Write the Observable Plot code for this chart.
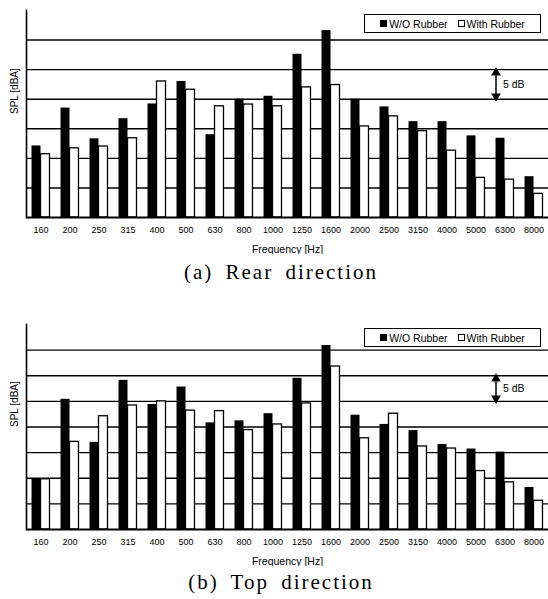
<!DOCTYPE html>
<html>
<head>
<meta charset="utf-8">
<script src="https://cdn.jsdelivr.net/npm/d3@7"></script>
<script src="https://cdn.jsdelivr.net/npm/@observablehq/plot@0.6"></script>
<style>
  html, body { margin: 0; padding: 0; background: white; }
  body { width: 548px; font-family: "Liberation Sans", Arial, sans-serif; }
  .panel { position: relative; width: 548px; }
  .panel svg { display: block; }
  .legend { position: absolute; box-sizing: border-box; border: 1.3px solid black; background: white;
    font: 10.5px "Liberation Sans", Arial, sans-serif; display: flex; align-items: center; justify-content: center;
    gap: 10px; color: black; }
  .legend .item { display: flex; align-items: center; gap: 2px; }
  .sq { display: inline-block; width: 7px; height: 7px; box-sizing: border-box; border: 1px solid black; }
  .cap { text-align: center; font-family: "Liberation Serif", "DejaVu Serif", serif; font-size: 21px;
    letter-spacing: 2px; word-spacing: 5px; color: black; padding-left: 14px; }
</style>
</head>
<body>
<div id="pa" class="panel"></div>
<div class="cap" id="capa" style="height:36px;line-height:36px;"></div>
<div id="pb" class="panel"></div>
<div class="cap" id="capb" style="height:32px;line-height:32px;"></div>
<script>
const freqs = ["160","200","250","315","400","500","630","800","1000","1250","1600","2000","2500","3150","4000","5000","6300","8000"];
const seriesNames = ["W/O Rubber", "With Rubber"];
const seriesFill = ["black", "white"];

// (a) Rear direction, relative SPL in dB
const rearWO   = [12.1, 18.5, 13.3, 16.7, 19.2, 23.0, 14.0, 20.0, 20.5, 27.6, 31.6, 20.0, 18.7, 16.2, 16.2, 13.8, 13.4, 6.9];
const rearWith = [10.7, 11.7, 12.0, 13.4, 23.0, 21.6, 18.8, 19.1, 18.8, 22.0, 22.4, 15.4, 17.1, 14.6, 11.3, 6.7, 6.4, 4.0];
const rearGrid = [5, 10, 15, 20, 25, 30];

// (b) Top direction
const topWO   = [9.8, 25.4, 17.0, 29.1, 24.4, 27.8, 20.8, 21.2, 22.6, 29.5, 35.9, 22.3, 20.5, 19.3, 16.6, 15.7, 15.1, 8.2];
const topWith = [9.8, 17.1, 22.1, 24.2, 25.0, 23.2, 23.1, 19.4, 20.5, 24.6, 31.8, 17.8, 22.6, 16.2, 15.8, 11.4, 9.2, 5.6];
const topGrid = [5, 10, 15, 20, 25, 30, 35];

const captions = ["(a) Rear direction", "(b) Top direction"];
const arrowLabel = "5 dB";
const arrowFreq = "6300";

function panel({wo, wi, ymax, grid, arrowSpan, marginTop, height}) {
  const W = 548, ML = 26, MR = 0;
  const bw = (W - ML - MR) / freqs.length;
  const outer = bw * 0.19, inner = bw * 0.5;
  const dWO = freqs.map((f, i) => ({freq: f, v: wo[i]}));
  const dWI = freqs.map((f, i) => ({freq: f, v: wi[i]}));
  const [a0, a1] = arrowSpan;
  return Plot.plot({
    width: W, height, marginTop, marginBottom: 37,
    marginLeft: ML, marginRight: MR,
    style: {background: "white", color: "black", fontFamily: "'Liberation Sans', Arial, sans-serif"},
    x: {domain: freqs, padding: 0, axis: null},
    y: {domain: [0, ymax], axis: null},
    marks: [
      Plot.ruleY(grid, {stroke: "black", strokeWidth: 1.4}),
      Plot.barY(dWO, {x: "freq", y: "v", fill: seriesFill[0], insetLeft: outer, insetRight: inner}),
      Plot.barY(dWI, {x: "freq", y: "v", fill: seriesFill[1], stroke: "black", strokeWidth: 1.3, insetLeft: inner, insetRight: outer}),
      Plot.ruleY([0], {stroke: "black", strokeWidth: 1.8}),
      Plot.frame({anchor: "left", stroke: "black", strokeWidth: 1.6}),
      Plot.axisX({tickSize: 0, tickPadding: 9, fontSize: 9, label: null}),
      Plot.text(["Frequency [Hz]"], {frameAnchor: "bottom", dy: 32, fontSize: 10.5, lineAnchor: "middle"}),
      Plot.text(["SPL [dBA]"], {frameAnchor: "left", dx: -12, rotate: -90, fontSize: 10, lineAnchor: "middle"}),
      Plot.ruleX([arrowFreq], {x: d => d, y1: a0, y2: a1, dx: -9, stroke: "black", strokeWidth: 1.5}),
      Plot.dot([a1], {x: () => arrowFreq, y: d => d, symbol: "triangle", fill: "black", stroke: "none", r: 3.6, dx: -9, dy: 3}),
      Plot.dot([a0], {x: () => arrowFreq, y: d => d, symbol: "triangle", fill: "black", stroke: "none", r: 3.6, rotate: 180, dx: -9, dy: -3}),
      Plot.text([arrowLabel], {x: () => arrowFreq, y: () => (a0 + a1) / 2, dx: -2, textAnchor: "start", fontSize: 10.5})
    ]
  });
}

function legend(top) {
  const div = document.createElement("div");
  div.className = "legend";
  div.style.left = "364px";
  div.style.top = top + "px";
  div.style.width = "177px";
  div.style.height = "19px";
  seriesNames.forEach((name, i) => {
    const it = document.createElement("span");
    it.className = "item";
    const sq = document.createElement("span");
    sq.className = "sq";
    sq.style.background = seriesFill[i];
    it.appendChild(sq);
    it.appendChild(document.createTextNode(name));
    div.appendChild(it);
  });
  return div;
}

const pa = document.getElementById("pa");
pa.appendChild(panel({wo: rearWO, wi: rearWith, ymax: 35, grid: rearGrid, arrowSpan: [20, 25], marginTop: 10, height: 254}));
pa.appendChild(legend(14));
document.getElementById("capa").textContent = captions[0];

const pb = document.getElementById("pb");
pb.appendChild(panel({wo: topWO, wi: topWith, ymax: 40, grid: topGrid, arrowSpan: [25, 30], marginTop: 34, height: 276}));
pb.appendChild(legend(38));
document.getElementById("capb").textContent = captions[1];
</script>
</body>
</html>
